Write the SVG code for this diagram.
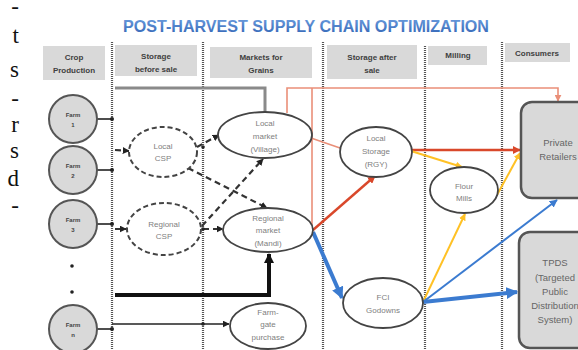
<svg xmlns="http://www.w3.org/2000/svg" width="578" height="350" viewBox="0 0 578 350">
<style>
.sep{stroke:#555;stroke-width:2.2;stroke-dasharray:1 1;fill:none}
.hdr{fill:#d9d9d9}
.ht{font-family:"Liberation Sans",Arial,sans-serif;font-size:8px;font-weight:bold;fill:#404040;text-anchor:middle}
.farm{fill:#d9d9d9;stroke:#555;stroke-width:2}
.ft{font-family:"Liberation Sans",Arial,sans-serif;font-size:6px;font-weight:bold;fill:#444;text-anchor:middle}
.ell{fill:#fff;stroke:#444;stroke-width:1.8}
.dell{fill:#fff;stroke:#444;stroke-width:2;stroke-dasharray:5 3}
.nt{font-family:"Liberation Sans",Arial,sans-serif;font-size:8px;fill:#808080;text-anchor:middle}
.box{fill:#d9d9d9;stroke:#555;stroke-width:2.5}
.bt{font-family:"Liberation Sans",Arial,sans-serif;font-size:9.5px;fill:#666;text-anchor:middle}
.side{font-family:"Liberation Serif","Times New Roman",serif;font-size:23px;fill:#111;text-anchor:end}
.k{stroke:#222;stroke-width:1.6;fill:none}
.kd{stroke:#333;stroke-width:2.2;stroke-dasharray:6 4;fill:none}
.s{stroke:#ea8f78;stroke-width:1.6;fill:none}
.r{stroke:#d9482b;stroke-width:2.4;fill:none}
.y{stroke:#ffc125;stroke-width:2;fill:none}
.b{stroke:#3b7bd0;fill:none}
.dot{fill:#222}
</style>
<defs>
<linearGradient id="tg" x1="0" y1="0" x2="0" y2="1">
<stop offset="0" stop-color="#6e9fe0"/>
<stop offset="1" stop-color="#2f62b3"/>
</linearGradient>
<marker id="aK" viewBox="0 0 10 10" refX="9" refY="5" markerWidth="7" markerHeight="7" markerUnits="userSpaceOnUse" orient="auto"><path d="M0,0 L10,5 L0,10 z" fill="#222"/></marker>
<marker id="aKL" viewBox="0 0 10 10" refX="9" refY="5" markerWidth="10" markerHeight="10" markerUnits="userSpaceOnUse" orient="auto"><path d="M0,0 L10,5 L0,10 z" fill="#111"/></marker>
<marker id="aS" viewBox="0 0 10 10" refX="9" refY="5" markerWidth="7" markerHeight="7" markerUnits="userSpaceOnUse" orient="auto"><path d="M0,0 L10,5 L0,10 z" fill="#ea8f78"/></marker>
<marker id="aR" viewBox="0 0 10 10" refX="9" refY="5" markerWidth="8" markerHeight="8" markerUnits="userSpaceOnUse" orient="auto"><path d="M0,0 L10,5 L0,10 z" fill="#d9482b"/></marker>
<marker id="aY" viewBox="0 0 10 10" refX="9" refY="5" markerWidth="7" markerHeight="7" markerUnits="userSpaceOnUse" orient="auto"><path d="M0,0 L10,5 L0,10 z" fill="#ffc125"/></marker>
<marker id="aB" viewBox="0 0 10 10" refX="9" refY="5" markerWidth="12" markerHeight="12" markerUnits="userSpaceOnUse" orient="auto"><path d="M0,0 L10,5 L0,10 z" fill="#3b7bd0"/></marker>
<marker id="aBs" viewBox="0 0 10 10" refX="9" refY="5" markerWidth="8" markerHeight="8" markerUnits="userSpaceOnUse" orient="auto"><path d="M0,0 L10,5 L0,10 z" fill="#3b7bd0"/></marker>
</defs>
<rect width="578" height="350" fill="#fff"/>

<!-- side text fragment (cropped paragraph) -->
<g id="sidetext">
<text class="side"><tspan x="19" y="14">-</tspan><tspan x="19" y="43">t</tspan><tspan x="19" y="77">s</tspan><tspan x="19" y="106">-</tspan><tspan x="19" y="132">r</tspan><tspan x="19" y="158">s</tspan><tspan x="19" y="186">d</tspan><tspan x="19" y="213">-</tspan></text>
</g>

<!-- title -->
<text id="title" x="306" y="32" font-family="'Liberation Sans',Arial,sans-serif" font-size="17" font-weight="bold" fill="url(#tg)" text-anchor="middle" textLength="366" lengthAdjust="spacingAndGlyphs">POST-HARVEST SUPPLY CHAIN OPTIMIZATION</text>

<!-- headers -->
<g id="headers">
<rect class="hdr" x="43" y="46" width="62" height="34"/>
<text class="ht" x="74" y="60">Crop</text>
<text class="ht" x="74" y="73">Production</text>
<rect class="hdr" x="115" y="45" width="82" height="31"/>
<text class="ht" x="156" y="59">Storage</text>
<text class="ht" x="156" y="72">before sale</text>
<rect class="hdr" x="210" y="47" width="102" height="31"/>
<text class="ht" x="261" y="60">Markets for</text>
<text class="ht" x="261" y="73">Grains</text>
<rect class="hdr" x="327" y="45" width="90" height="34"/>
<text class="ht" x="372" y="60">Storage after</text>
<text class="ht" x="372" y="73">sale</text>
<rect class="hdr" x="428" y="46" width="59" height="19"/>
<text class="ht" x="458" y="58">Milling</text>
<rect class="hdr" x="505" y="43" width="65" height="19"/>
<text class="ht" x="537" y="56">Consumers</text>
</g>

<!-- separators -->
<g id="separators">
<line class="sep" x1="112" y1="42" x2="112" y2="350"/>
<line class="sep" x1="203" y1="42" x2="203" y2="350"/>
<line class="sep" x1="323" y1="42" x2="323" y2="350"/>
<line class="sep" x1="425" y1="46" x2="425" y2="350"/>
<line class="sep" x1="502" y1="42" x2="502" y2="350"/>
</g>

<!-- connectors -->
<g id="connectors">
<line class="k" x1="97" y1="119" x2="112" y2="119"/>
<line class="k" x1="97" y1="170" x2="112" y2="170"/>
<line class="k" x1="97" y1="224" x2="112" y2="224"/>
<line class="k" x1="97" y1="329" x2="112" y2="329"/>
<circle class="dot" cx="112" cy="119" r="2"/>
<circle class="dot" cx="112" cy="170" r="2"/>
<circle class="dot" cx="112" cy="224" r="2"/>
<circle class="dot" cx="112" cy="329" r="2"/>
<polyline points="115,88 265,88 265,112" fill="none" stroke="#8a8a8a" stroke-width="3"/>
<line class="kd" x1="115" y1="150" x2="129" y2="151" marker-end="url(#aK)"/>
<line class="kd" x1="115" y1="229" x2="126" y2="229" marker-end="url(#aK)"/>
<line class="kd" x1="197" y1="147" x2="219" y2="135" marker-end="url(#aK)"/>
<line class="kd" x1="188" y1="168" x2="267" y2="208" marker-end="url(#aK)"/>
<line class="kd" x1="202" y1="226" x2="263" y2="159" marker-end="url(#aK)"/>
<line class="kd" x1="203" y1="229" x2="223" y2="229" marker-end="url(#aK)"/>
<circle class="dot" cx="203" cy="147" r="1.8"/>
<circle class="dot" cx="203" cy="229" r="1.8"/>
<polyline points="115,295 269,295 269,254" fill="none" stroke="#111" stroke-width="4" marker-end="url(#aKL)"/>
<line class="k" x1="112" y1="324" x2="229" y2="324" marker-end="url(#aK)"/>
<circle class="dot" cx="203" cy="324" r="1.8"/>
<polyline class="s" points="287,113 287,88 558,88 558,101" marker-end="url(#aS)"/>
<line class="s" x1="312" y1="88" x2="312" y2="230"/>
<line class="s" x1="311" y1="138" x2="340" y2="148"/>
<line class="r" x1="313" y1="230" x2="375" y2="176" marker-end="url(#aR)"/>
<line class="r" x1="411" y1="150" x2="520" y2="150" marker-end="url(#aR)"/>
<line class="y" x1="411" y1="151" x2="462" y2="167" marker-end="url(#aY)"/>
<line class="y" x1="497" y1="195" x2="520" y2="153" marker-end="url(#aY)"/>
<line class="y" x1="423" y1="302" x2="465" y2="214" marker-end="url(#aY)"/>
<line class="b" stroke-width="4" x1="313" y1="232" x2="342" y2="298" marker-end="url(#aB)"/>
<line class="b" stroke-width="2" x1="423" y1="302" x2="557" y2="200" marker-end="url(#aBs)"/>
<line class="b" stroke-width="4" x1="423" y1="302" x2="517" y2="292" marker-end="url(#aB)"/>
</g>

<!-- nodes -->
<g id="farm1"><circle class="farm" cx="73" cy="119" r="24"/><text class="ft" x="73" y="117">Farm</text><text class="ft" x="73" y="127">1</text></g>
<g id="farm2"><circle class="farm" cx="73" cy="170" r="24"/><text class="ft" x="73" y="168">Farm</text><text class="ft" x="73" y="178">2</text></g>
<g id="farm3"><circle class="farm" cx="73" cy="224" r="24"/><text class="ft" x="73" y="222">Farm</text><text class="ft" x="73" y="232">3</text></g>
<g id="dots"><circle class="dot" cx="72" cy="266" r="1.8"/><circle class="dot" cx="72" cy="292" r="1.8"/></g>
<g id="farmn"><circle class="farm" cx="73" cy="329" r="24"/><text class="ft" x="73" y="327">Farm</text><text class="ft" x="73" y="337">n</text></g>

<g id="localcsp"><ellipse class="dell" cx="163" cy="152" rx="34" ry="25"/><text class="nt" x="163" y="149">Local</text><text class="nt" x="163" y="161">CSP</text></g>
<g id="regionalcsp"><ellipse class="dell" cx="164" cy="229" rx="37" ry="26"/><text class="nt" x="164" y="227">Regional</text><text class="nt" x="164" y="239">CSP</text></g>

<g id="localmarket"><ellipse class="ell" cx="265" cy="135" rx="47" ry="23"/><text class="nt" x="265" y="126">Local</text><text class="nt" x="265" y="139">market</text><text class="nt" x="265" y="152">(Village)</text></g>
<g id="regionalmarket"><ellipse class="ell" cx="268" cy="230" rx="45" ry="22"/><text class="nt" x="268" y="221">Regional</text><text class="nt" x="268" y="233">market</text><text class="nt" x="268" y="246">(Mandi)</text></g>
<g id="farmgate"><ellipse class="ell" cx="268" cy="326" rx="38" ry="23"/><text class="nt" x="268" y="315">Farm-</text><text class="nt" x="268" y="327">gate</text><text class="nt" x="268" y="340">purchase</text></g>

<g id="localstorage"><ellipse class="ell" cx="376" cy="152" rx="36" ry="25"/><text class="nt" x="376" y="141">Local</text><text class="nt" x="376" y="154">Storage</text><text class="nt" x="376" y="167">(RGY)</text></g>
<g id="fci"><ellipse class="ell" cx="383" cy="303" rx="40" ry="25"/><text class="nt" x="383" y="300">FCI</text><text class="nt" x="383" y="313">Godowns</text></g>

<g id="flourmills"><ellipse class="ell" cx="464" cy="190" rx="34" ry="23"/><text class="nt" x="464" y="189">Flour</text><text class="nt" x="464" y="201">Mills</text></g>

<g id="private"><rect class="box" x="521" y="102" width="80" height="96" rx="11"/><text class="bt" x="558" y="146">Private</text><text class="bt" x="558" y="160">Retailers</text></g>
<g id="tpds"><rect class="box" x="519" y="232" width="80" height="116" rx="11"/><text class="bt" x="555" y="266">TPDS</text><text class="bt" x="555" y="281">(Targeted</text><text class="bt" x="555" y="295">Public</text><text class="bt" x="555" y="309">Distribution</text><text class="bt" x="555" y="323">System)</text></g>
</svg>
